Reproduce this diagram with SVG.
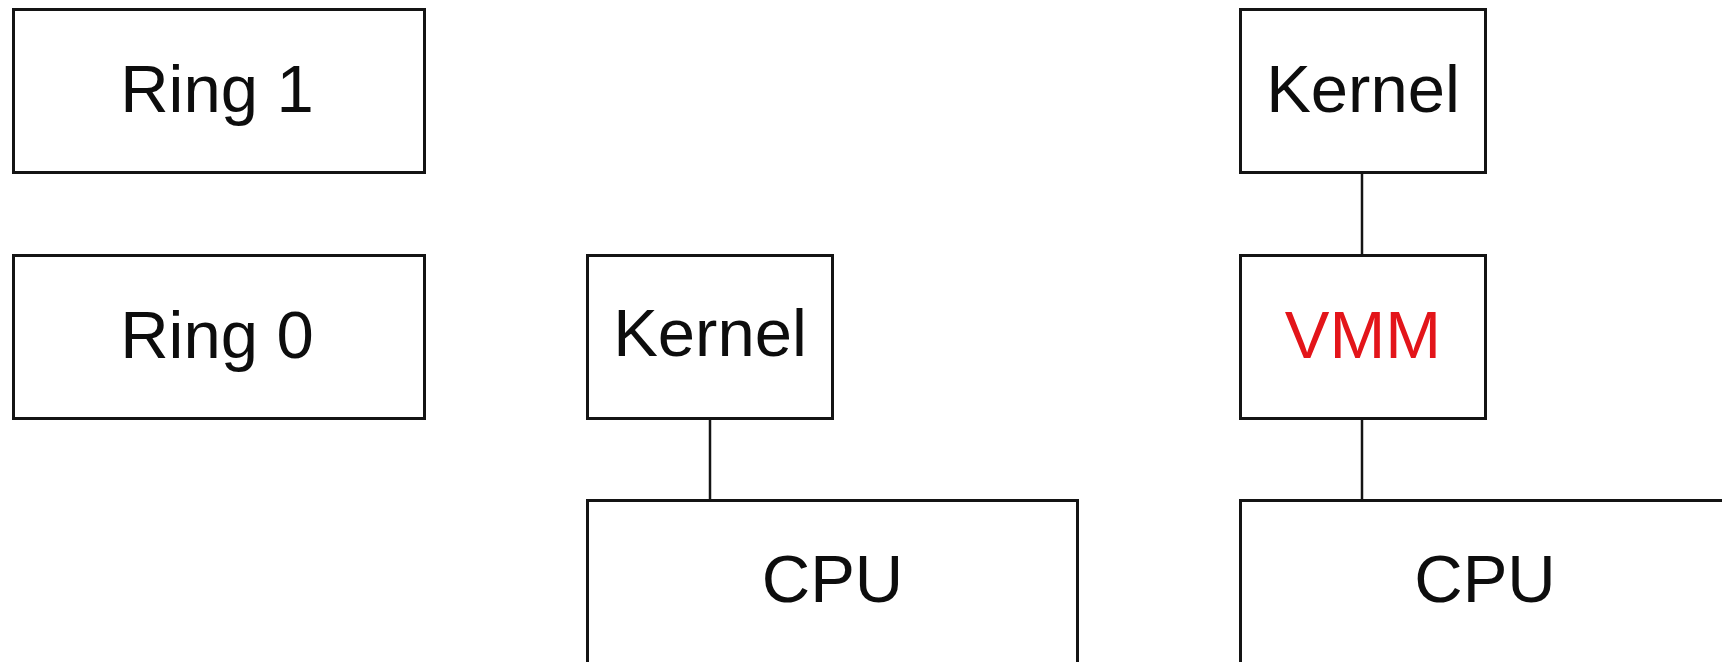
<svg xmlns="http://www.w3.org/2000/svg" width="1722" height="662" viewBox="0 0 1722 662">
  <style>
    .box { fill: #ffffff; stroke: #141414; stroke-width: 3; }
    .lbl { font-family: "Liberation Sans", Arial, sans-serif; font-size: 67px; fill: #0d0d0d; text-anchor: middle; }
    .red { fill: #e3151a; }
    .conn { stroke: #141414; stroke-width: 2.5; fill: none; }
  </style>
  <rect width="1722" height="662" fill="#ffffff"/>
  <g id="connectors">
    <line class="conn" x1="710" y1="418" x2="710" y2="500.5"/>
    <line class="conn" x1="1362" y1="172.5" x2="1362" y2="255.5"/>
    <line class="conn" x1="1362" y1="418.5" x2="1362" y2="500.5"/>
  </g>
  <g id="ring1">
    <rect class="box" x="13.5" y="9.5" width="411" height="163"/>
    <text class="lbl" x="217" y="112">Ring 1</text>
  </g>
  <g id="ring0">
    <rect class="box" x="13.5" y="255.5" width="411" height="163"/>
    <text class="lbl" x="217" y="358">Ring 0</text>
  </g>
  <g id="kernel-native">
    <rect class="box" x="587.5" y="255.5" width="245" height="163"/>
    <text class="lbl" x="710" y="356">Kernel</text>
  </g>
  <g id="cpu-native">
    <rect class="box" x="587.5" y="500.5" width="490" height="163"/>
    <text class="lbl" x="832.5" y="602">CPU</text>
  </g>
  <g id="kernel-guest">
    <rect class="box" x="1240.5" y="9.5" width="245" height="163"/>
    <text class="lbl" x="1363" y="112">Kernel</text>
  </g>
  <g id="vmm">
    <rect class="box" x="1240.5" y="255.5" width="245" height="163"/>
    <text class="lbl red" x="1363" y="358">VMM</text>
  </g>
  <g id="cpu-virt">
    <rect class="box" x="1240.5" y="500.5" width="490" height="163"/>
    <text class="lbl" x="1485" y="602">CPU</text>
  </g>
</svg>
